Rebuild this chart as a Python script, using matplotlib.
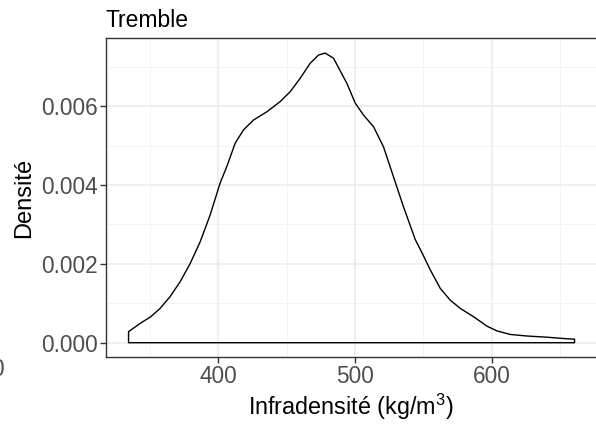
import matplotlib
matplotlib.use("Agg")
import matplotlib.pyplot as plt
from matplotlib.ticker import MultipleLocator

# ─── Data ───────────────────────────────────────────────────────────────────
wood_density = [334.2, 342.7, 350.5, 357.3, 364.6, 372.0, 379.3, 386.6,
                393.9, 401.2, 406.1, 412.2, 418.3, 425.6, 435.4, 445.2,
                452.5, 459.8, 467.1, 473.2, 478.1, 484.2, 489.1, 494.0,
                500.1, 506.1, 513.5, 520.8, 528.1, 535.4, 544.0, 549.0,
                555.0, 562.3, 569.6, 577.0, 586.7, 596.5, 603.8, 613.5,
                625.8, 640.4, 655.0, 660.6]
density = [0.00028, 0.00049, 0.00066, 0.00087, 0.00117, 0.00155, 0.00201,
           0.00256, 0.00324, 0.00405, 0.00447, 0.00506, 0.00540, 0.00565,
           0.00586, 0.00612, 0.00637, 0.00671, 0.00709, 0.00730, 0.00735,
           0.00722, 0.00690, 0.00658, 0.00608, 0.00578, 0.00548, 0.00497,
           0.00421, 0.00345, 0.00262, 0.00228, 0.00185, 0.00138, 0.00108,
           0.00087, 0.00066, 0.00042, 0.00030, 0.00021, 0.00017, 0.00014,
           0.00010, 0.00009]

x_ticks = [400, 500, 600]
y_ticks = [0.000, 0.002, 0.004, 0.006]

# ─── Style ──────────────────────────────────────────────────────────────────
plt.rcParams["font.family"] = ["Liberation Sans", "DejaVu Sans"]
plt.rcParams["mathtext.fontset"] = "custom"
plt.rcParams["mathtext.rm"] = "Liberation Sans"
plt.rcParams["mathtext.it"] = "Liberation Sans"

fig = plt.figure(figsize=(5.96, 4.28), dpi=100)
ax = fig.add_axes([106 / 596, (428 - 356.5) / 428, 490 / 596, 318 / 428])

ax.fill_between(wood_density, density, facecolor="none",
                edgecolor="black", linewidth=1.0)

ax.set_xlim(317.7, 676.3)
ax.set_ylim(-0.00035, 0.00772)
ax.set_xticks(x_ticks)
ax.set_yticks(y_ticks)
ax.xaxis.set_minor_locator(MultipleLocator(50))
ax.yaxis.set_minor_locator(MultipleLocator(0.001))
ax.set_yticklabels([f"{v:.3f}" for v in y_ticks])

ax.grid(True, which="major", color="#EBEBEB", linewidth=1.1)
ax.grid(True, which="minor", color="#F3F3F3", linewidth=0.7)
ax.set_axisbelow(True)

for side in ("left", "top", "bottom"):
    ax.spines[side].set_color("#333333")
    ax.spines[side].set_linewidth(1.0)
ax.spines["right"].set_visible(False)

ax.tick_params(which="major", length=4, width=1, color="#333333",
               labelcolor="#4D4D4D", labelsize=16.3, pad=2)
ax.tick_params(which="minor", length=0)

ax.set_xlabel("Infradensité (kg/m$^3$)", fontsize=16.8, labelpad=3)
ax.set_ylabel("Densité", fontsize=17, labelpad=4)
ax.set_title("Tremble", loc="left", fontsize=16.5, pad=8)

# clipped tick label of the neighbouring panel at the left edge
fig.text(4 / 596, 1 - 370 / 428, "0", ha="right", va="center",
         fontsize=16.3, color="#4D4D4D")

fig.savefig("out.png", dpi=100)
